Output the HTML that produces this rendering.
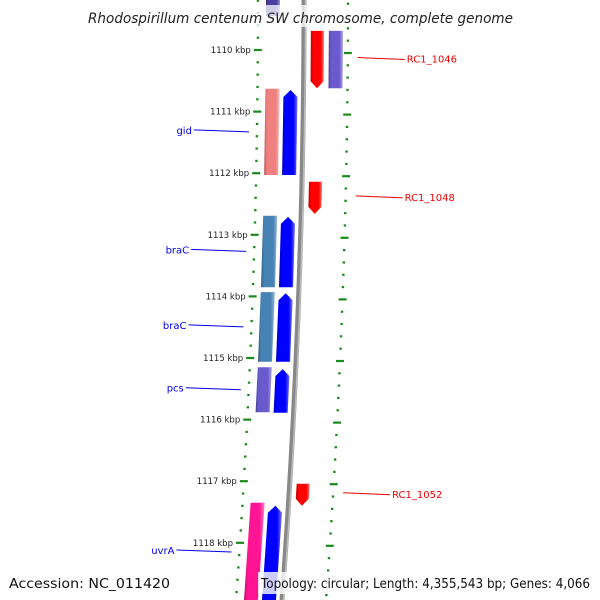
<!DOCTYPE html>
<html><head><meta charset="utf-8"><style>
html,body{margin:0;padding:0;background:#fff;}
svg{display:block;font-family:"DejaVu Sans","Liberation Sans",sans-serif;}
</style></head><body>
<svg id="chart" width="600" height="600" viewBox="0 0 600 600" xmlns="http://www.w3.org/2000/svg">
<defs>
<linearGradient id="shade" x1="0" x2="1" y1="0" y2="0">
<stop offset="0" stop-color="#000" stop-opacity="0.25"/>
<stop offset="0.2" stop-color="#000" stop-opacity="0"/>
<stop offset="0.75" stop-color="#fff" stop-opacity="0"/>
<stop offset="1" stop-color="#fff" stop-opacity="0.45"/>
</linearGradient>
</defs>
<g id="ticks"></g>
<g id="backbone"></g>
<g id="genes"></g>
<g id="labels"></g>
<rect x="85" y="5" width="430" height="22" fill="#fff" fill-opacity="0.75"/>
<text x="88" y="23" textLength="425" lengthAdjust="spacingAndGlyphs" font-size="14.5" font-style="italic" fill="#222">Rhodospirillum centenum SW chromosome, complete genome</text>
<rect x="4" y="572" width="172" height="22" fill="#fff" fill-opacity="0.8"/>
<text x="9" y="588" textLength="161" lengthAdjust="spacingAndGlyphs" font-size="13" fill="#111">Accession: NC_011420</text>
<rect x="258" y="572" width="338" height="22" fill="#fff" fill-opacity="0.8"/>
<text x="261" y="588" textLength="329" lengthAdjust="spacingAndGlyphs" font-size="13" fill="#111">Topology: circular; Length: 4,355,543 bp; Genes: 4,066</text>
</svg>
<script>
const kbpTicks = [1110,1111,1112,1113,1114,1115,1116,1117,1118];
const geneNames = ["", "RC1_1046", "", "gid", "", "RC1_1048", "braC", "", "braC", "", "pcs", "", "RC1_1052", "uvrA", ""];
const geneStart = [1109.05, 1109.69, 1109.69, 1110.63, 1110.65, 1112.14, 1112.69, 1112.71, 1113.93, 1113.95, 1115.15, 1115.18, 1117.04, 1117.35, 1117.40];
const geneEnd   = [1109.45, 1110.62, 1110.62, 1112.03, 1112.03, 1112.66, 1113.85, 1113.85, 1115.06, 1115.06, 1115.88, 1115.89, 1117.40, 1118.95, 1118.95];
const geneLane  = [0, 2, 3, 0, 1, 2, 0, 1, 0, 1, 0, 1, 2, 0, 1];
const geneStrand= [0, -1, 0, 0, 1, -1, 0, 1, 0, 1, 0, 1, -1, 0, 1];
const geneColor = ["#4a3f9f","#ff0000","#6a5acd","#f08080","#0000ff","#ff0000","#4682b4","#0000ff","#4682b4","#0000ff","#6a5acd","#0000ff","#ff0000","#ff1493","#0000ff"];

const NS="http://www.w3.org/2000/svg";
function yOf(kbp){ return 50 + (kbp-1110)*61.6; }
function cx(y){ return 304 - 22*Math.pow(Math.max(y,0)/600,2); }
const laneOff=[[-38,-24],[-20,-6],[7,20],[25,39]];
function mk(tag,attrs,parent){const e=document.createElementNS(NS,tag);for(const k in attrs)e.setAttribute(k,attrs[k]);parent.appendChild(e);return e;}

const tg=document.getElementById('ticks');
for(let k=1108.4;k<=1119.2;k+=0.2){
  const y=yOf(k); if(y<-5||y>605) continue;
  const major=Math.abs(k-Math.round(k))<0.01;
  const lx=cx(y)-46, rx=cx(y+3)+44;
  const l=mk('line',{x1:lx-(major?4:1.2),x2:lx+(major?4:1.2),y1:y,y2:y,stroke:'#1a8a1a','stroke-width':2.2},tg);
  
  
  const r=mk('line',{x1:rx-(major?4:1.2),x2:rx+(major?4:1.2),y1:y+3,y2:y+3,stroke:'#1a8a1a','stroke-width':2.2},tg);
  
  
}
kbpTicks.forEach(k=>{
  const y=yOf(k);
  const t=mk('text',{x:cx(y)-53,y:y+3,'font-size':8.5,'text-anchor':'end',fill:'#222'},tg);
  t.textContent=k+' kbp';
  
  
});

const bg=document.getElementById('backbone');
let pts=[];for(let y=0;y<=600;y+=10)pts.push(cx(y)+','+y);
const bl=mk('polyline',{points:pts.join(' '),fill:'none',stroke:'#888','stroke-width':5},bg);


const bl2=mk('polyline',{points:pts.map(p=>{const[a,b]=p.split(',');return (+a+1.5)+','+b}).join(' '),fill:'none',stroke:'#bbb','stroke-width':1.5},bg);



const gg=document.getElementById('genes'), lg=document.getElementById('labels');
for(let i=0;i<geneStart.length;i++){
  const y1=yOf(geneStart[i]), y2=yOf(geneEnd[i]);
  const [o1,o2]=laneOff[geneLane[i]];
  const a=cx(y1), b=cx(y2), s=geneStrand[i], h=7;
  let p;
  if(s===1){ const ym=y1+h;
    p=[[a+(o1+o2)/2,y1],[cx(ym)+o2,ym],[b+o2,y2],[b+o1,y2],[cx(ym)+o1,ym]];
  } else if(s===-1){ const ym=y2-h;
    p=[[a+o1,y1],[a+o2,y1],[cx(ym)+o2,ym],[b+(o1+o2)/2,y2],[cx(ym)+o1,ym]];
  } else p=[[a+o1,y1],[a+o2,y1],[b+o2,y2],[b+o1,y2]];
  const ps=p.map(q=>q[0].toFixed(1)+','+q[1].toFixed(1)).join(' ');
  const g=mk('g',{},gg);
  
  
  mk('polygon',{points:ps,fill:geneColor[i]},g);
  mk('polygon',{points:ps,fill:'url(#shade)'},g);
  if(geneNames[i]){
    const ym=(y1+y2)/2-1;
    const left=geneLane[i]<2;
    const c=left?'#0000ee':'#ee0000';
    if(left){
      const ex=cx(ym)-54, sx=ex-55;
      const ln=mk('line',{x1:sx,y1:ym-1,x2:ex,y2:ym+1,stroke:c,'stroke-width':1},lg);
      
      
      const t=mk('text',{x:sx-2,y:ym+3,'font-size':10,'text-anchor':'end',fill:c},lg);
      t.textContent=geneNames[i];
      
      
    } else {
      const sx=cx(ym)+54, ex=sx+47;
      const ln=mk('line',{x1:sx,y1:ym-1,x2:ex,y2:ym+1,stroke:c,'stroke-width':1},lg);
      
      
      const t=mk('text',{x:ex+2,y:ym+4,'font-size':10,fill:c},lg);
      t.textContent=geneNames[i];
      
      
    }
  }
}
</script>
</body></html>
